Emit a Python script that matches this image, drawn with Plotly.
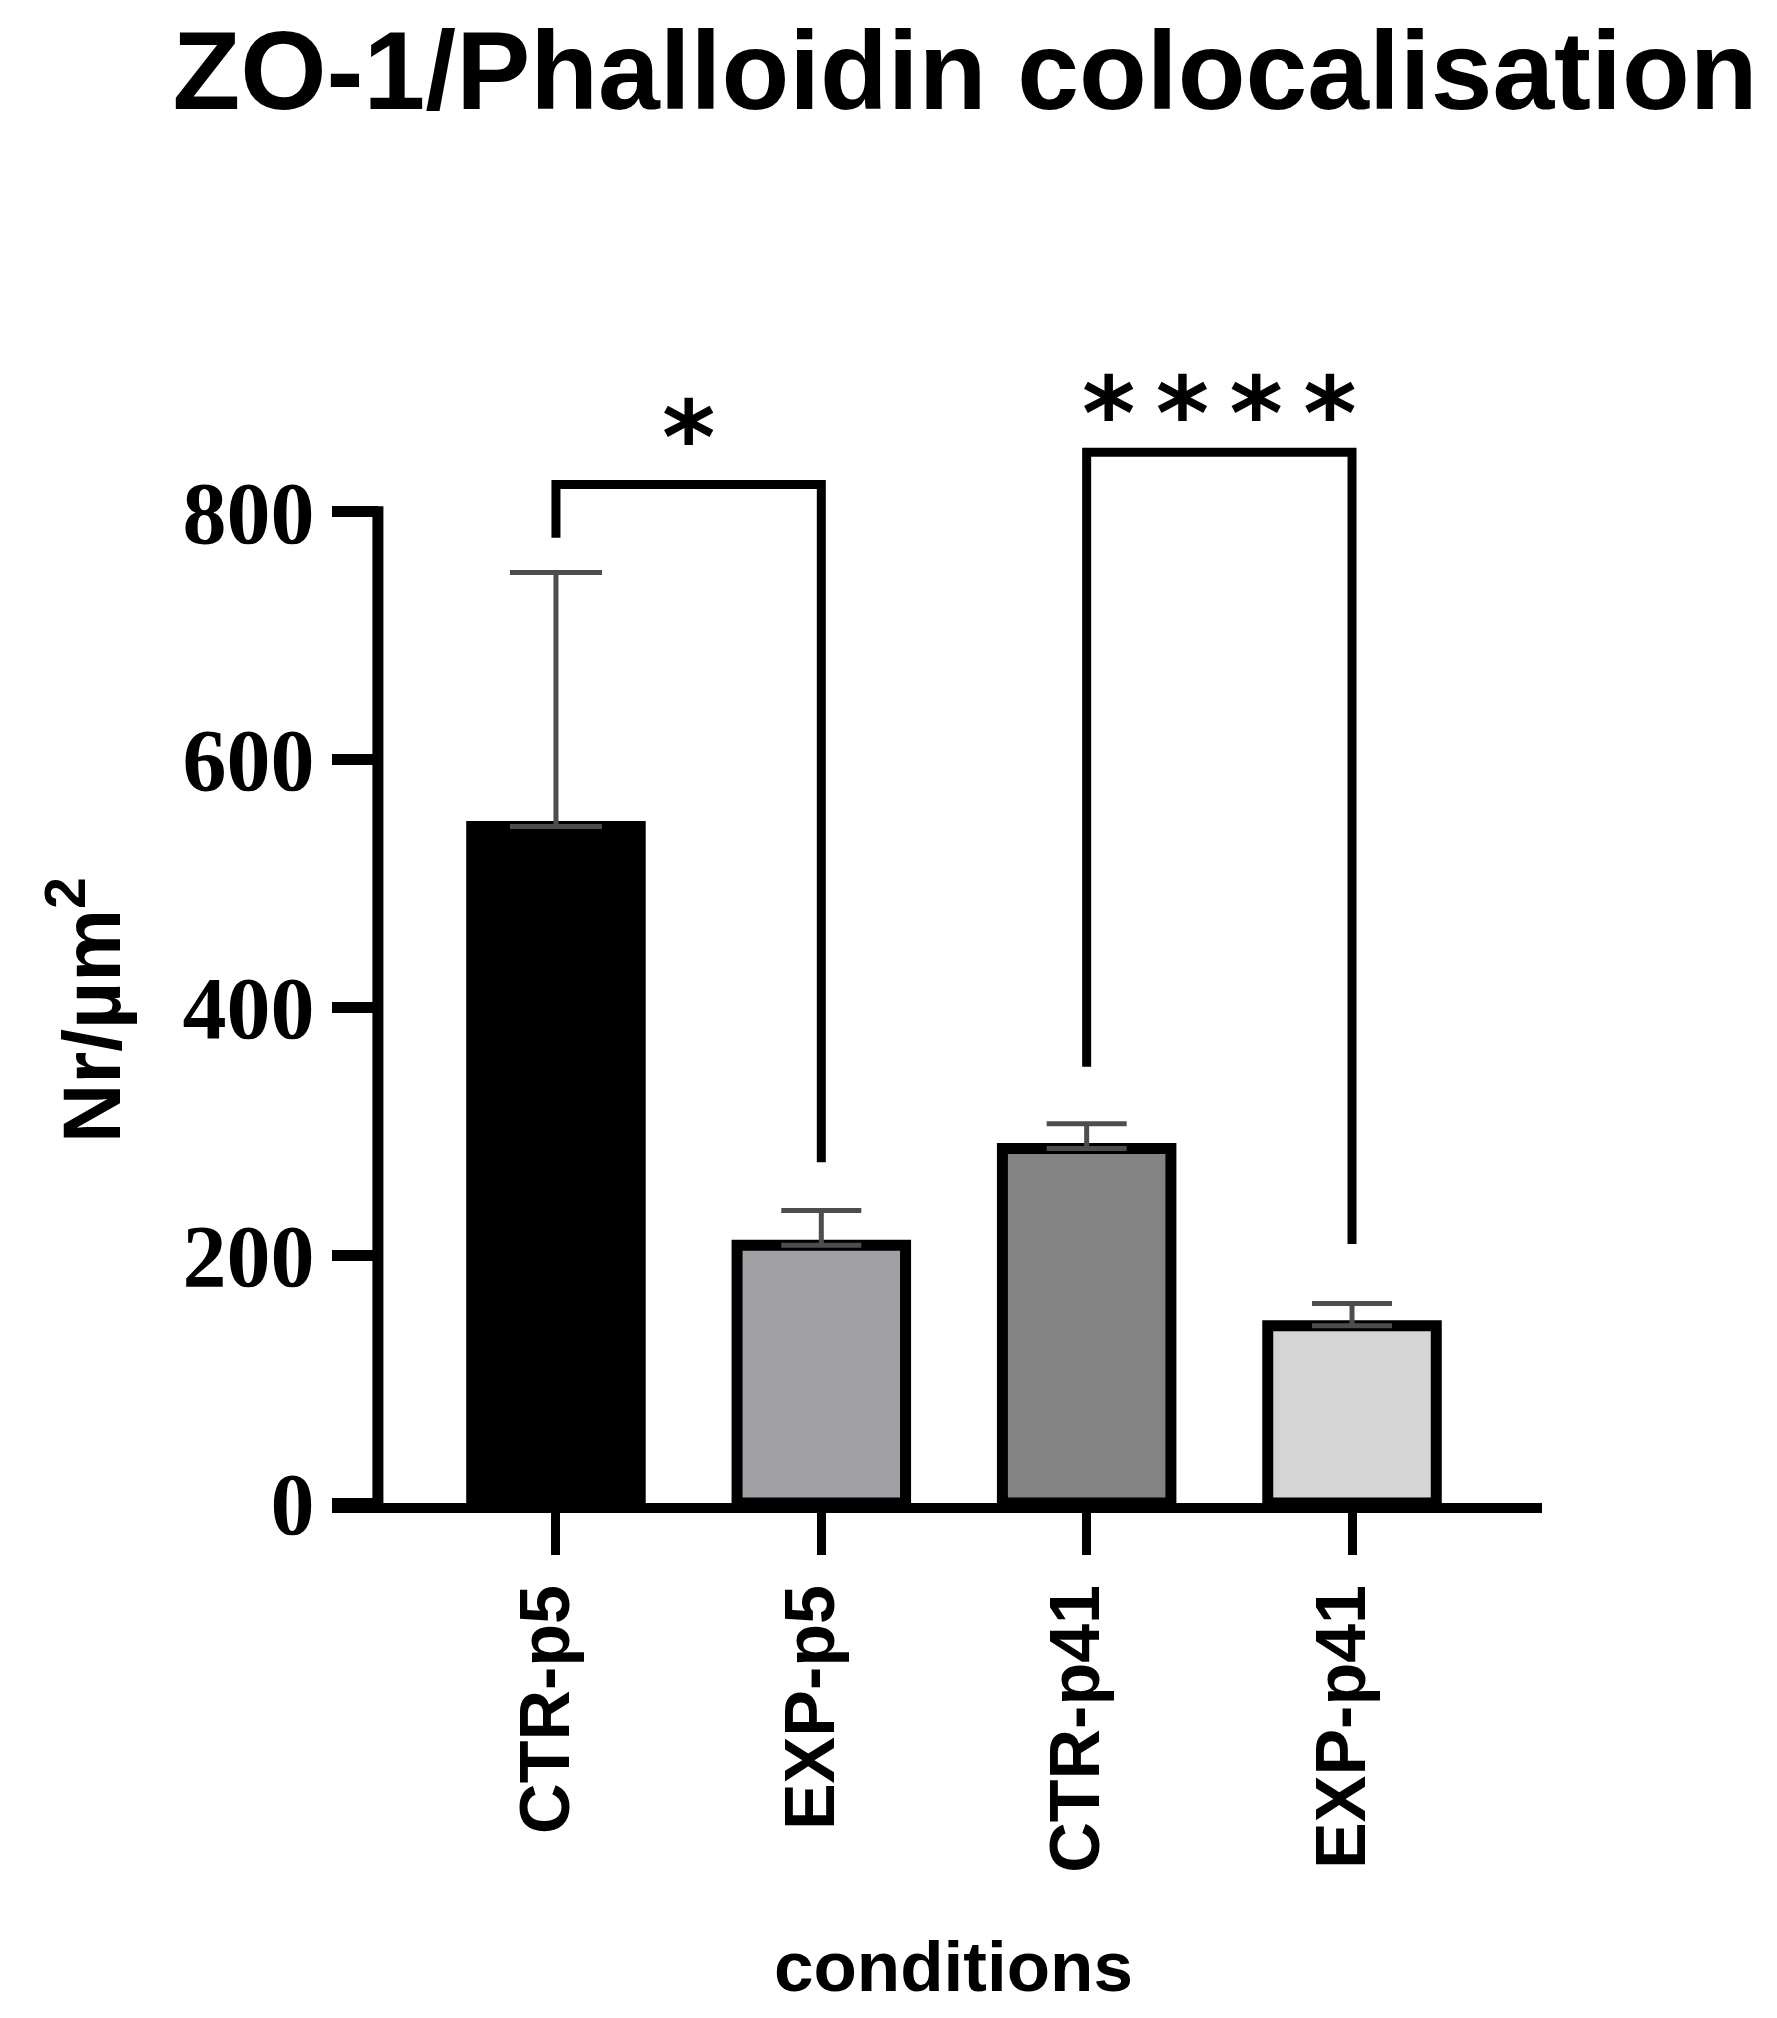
import plotly.graph_objects as go

# ---- data ----
categories = ["CTR-p5", "EXP-p5", "CTR-p41", "EXP-p41"]
means = [546, 208, 286, 143]
errors = [205, 28, 20, 18]
colors = ["#000000", "#a1a1a5", "#838383", "#d5d5d5"]
cap_widths = [46, 40, 40, 40]
y_ticks = [0, 200, 400, 600, 800]

# significance brackets: (left idx, right idx, left foot, right foot, top, label, label_y)
brackets = [
    (0, 1, 779, 275, 822, "*", 860),
    (2, 3, 352, 209, 848, "*\u2009*\u2009*\u2009*", 879),
]

title = "ZO-1/Phalloidin colocalisation"
y_title = "Nr/µm<sup>2</sup>"
x_title = "conditions"

# page body adds an 8px offset, so the figure is 8px smaller and shifted
W, H = 1769, 2010
ML, MR, MT, MB = 324, 235, 355, 515
X_RANGE = [-0.844, 3.716]
Y_RANGE = [0, 920]
Y_AXIS_X = -0.671  # data position of y axis line
PW = W - ML - MR
PH = H - MT - MB

fig = go.Figure()
for i, cat in enumerate(categories):
    fig.add_trace(go.Bar(
        x=[i], y=[means[i]], width=0.635,
        marker=dict(color=colors[i], line=dict(color="black", width=11)),
        error_y=dict(type="data", array=[errors[i]], arrayminus=[0], symmetric=False,
                     color="#4d4d4d", thickness=5, width=cap_widths[i]),
        showlegend=False, name=cat,
    ))

shapes = []
# y axis line
shapes.append(dict(type="line", xref="x", yref="y", x0=Y_AXIS_X, x1=Y_AXIS_X,
                   y0=0, y1=max(y_ticks) + 4.4, line=dict(color="black", width=11)))
for (a, b, fa, fb, top, lab, ly) in brackets:
    path = f"M {a},{fa} L {a},{top} L {b},{top} L {b},{fb}"
    shapes.append(dict(type="path", xref="x", yref="y", path=path,
                       line=dict(color="black", width=9)))

annotations = []
for (a, b, fa, fb, top, lab, ly) in brackets:
    annotations.append(dict(x=(a + b) / 2, y=ly, xref="x", yref="y", text=lab,
                            showarrow=False, xanchor="center", yanchor="middle",
                            font=dict(family="DejaVu Sans", size=102, color="black", weight="bold")))

annotations.append(dict(x=1.5, y=-0.407, xref="x", yref="paper", text=x_title,
                        showarrow=False, xanchor="center", yanchor="middle",
                        font=dict(family="Liberation Sans", size=71, color="black", weight="bold")))
annotations.append(dict(x=-0.204, y=398, xref="paper", yref="y", text=y_title,
                        showarrow=False, xanchor="center", yanchor="middle", textangle=-90,
                        font=dict(family="Liberation Sans", size=82, color="black", weight="bold")))

fig.update_layout(
    width=W, height=H,
    margin=dict(l=ML, r=MR, t=MT, b=MB),
    paper_bgcolor="white", plot_bgcolor="white",
    barmode="overlay",
    title=dict(text=title, x=957 / W, xanchor="center", xref="container",
               y=1 - 62 / H, yanchor="middle", yref="container",
               font=dict(family="Liberation Sans", size=111, color="black", weight="bold")),
    xaxis=dict(range=X_RANGE, tickvals=list(range(len(categories))), ticktext=categories,
               tickangle=-90, showline=True, linecolor="black", linewidth=10,
               ticks="outside", ticklen=42, tickwidth=9, tickcolor="black",
               showgrid=False, zeroline=False,
               tickfont=dict(family="Liberation Sans", size=70, color="black", weight="bold"),
               ticklabelstandoff=2, ticklabelshift=-10),
    yaxis=dict(range=Y_RANGE, tickvals=y_ticks, anchor="free",
               position=(378 - 332) / PW,
               showline=False, ticks="outside", ticklen=46, tickwidth=11, tickcolor="black",
               showgrid=False, zeroline=False,
               tickfont=dict(family="Liberation Serif", size=88, color="black", weight="bold"),
               ticklabelstandoff=0),
    shapes=shapes, annotations=annotations,
)

fig.write_html("out.html")
